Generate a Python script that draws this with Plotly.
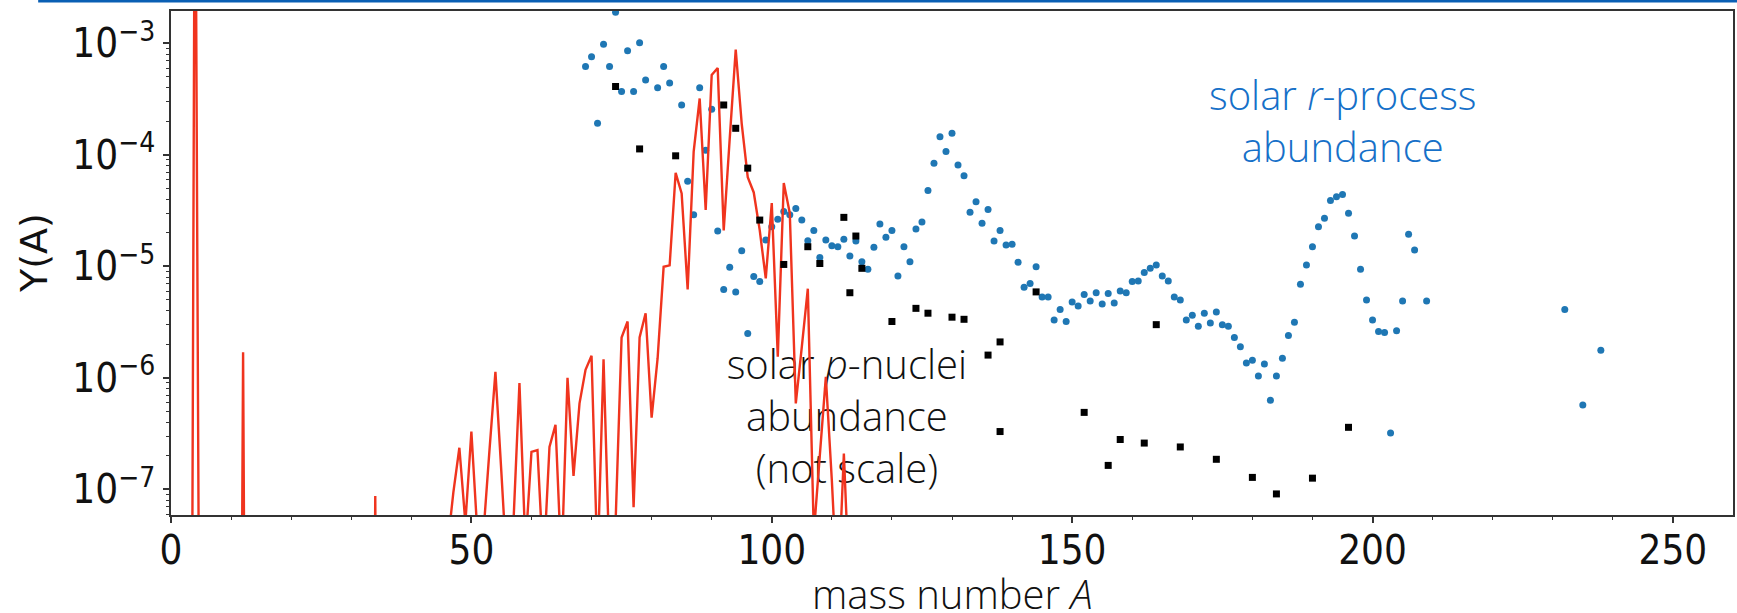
import plotly.graph_objects as go

# ---------------- data ----------------
# network abundance (red line); values far below the axis are off-chart
red_A = [3, 4, 5, 11, 12, 13, 33, 34, 35, 45, 46, 47, 48, 49, 50, 51, 52, 53, 54, 55,
         56, 57, 58, 59, 60, 61, 62, 63, 64, 65, 66, 67, 68, 69, 70, 71, 72, 73, 74, 75,
         76, 77, 78, 79, 80, 81, 82, 83, 84, 85, 86, 87, 88, 89, 90, 91, 92, 93, 94, 95,
         96, 97, 98, 99, 100, 101, 102, 103, 104, 105, 106, 107, 108, 109, 110, 111, 112, 113]
red_Y = [1e-16, 0.3, 1e-12, 1e-16, 1.7e-6, 1e-16, 1e-16, 8.7e-8, 1e-16, 1e-16, 3e-8, 9.4e-8,
         2.36e-7, 5e-8, 3.3e-7, 4e-8, 4e-8, 2.2e-7, 1.13e-6, 1.4e-7,
         1.6e-8, 5e-8, 9.0e-7, 3e-8, 2.17e-7, 2.25e-7, 2e-8, 2.4e-7, 3.8e-7, 2e-8,
         1.0e-6, 1.32e-7, 5.9e-7, 1.18e-6, 1.58e-6, 2e-8, 1.47e-6, 2e-8, 5e-8, 2.3e-6,
         3.2e-6, 6.9e-8, 2.3e-6, 3.8e-6, 4.4e-7, 1.5e-6, 9.9e-6, 1.02e-5, 6.9e-5, 4.5e-5,
         6.2e-6, 1.07e-4, 3.2e-4, 3.2e-5, 5.2e-4, 6.0e-4, 2.1e-5, 1.4e-4, 8.8e-4, 1.9e-4,
         6.3e-5, 4.6e-5, 2.1e-5, 7.8e-6, 3.7e-5, 1.55e-6, 5.6e-5, 3.0e-5, 5.9e-7, 1.9e-6,
         6.3e-6, 4e-8, 2e-7, 1.02e-6, 1.2e-7, 1e-8, 2.1e-7, 1e-8]

# solar r-process abundance (blue dots)
r_A = [69, 70, 71, 72, 73, 74, 75, 76, 77, 78, 79, 81, 82, 83, 85, 86, 87, 88, 89, 90,
       91, 92, 93, 94, 95, 96, 97, 98, 99, 100, 101, 102, 103, 104, 105, 106, 107, 108, 109, 110,
       111, 112, 113, 114, 115, 116, 117, 118, 119, 120, 121, 122, 123, 124, 125, 126, 127, 128, 129, 130,
       131, 132, 133, 134, 135, 136, 137, 138, 139, 140, 141, 142, 143, 144, 145, 146, 147, 148, 149, 150,
       151, 152, 153, 154, 155, 156, 157, 158, 159, 160, 161, 162, 163, 164, 165, 166, 167, 168, 169, 170,
       171, 172, 173, 174, 175, 176, 177, 178, 179, 180, 181, 182, 183, 184, 185, 186, 187, 188, 189, 190,
       191, 192, 193, 194, 195, 196, 197, 198, 199, 200, 201, 202, 203, 204, 205, 206, 207, 209,
       232, 235, 238]
r_Y = [6.2e-4, 7.6e-4, 1.92e-4, 9.8e-4, 6.2e-4, 1.9e-3, 3.7e-4, 8.6e-4, 3.7e-4, 1.01e-3,
       4.7e-4, 4.0e-4, 6.2e-4, 4.4e-4, 2.8e-4, 5.8e-5, 2.9e-5, 4.0e-4, 1.1e-4, 2.56e-4,
       2.07e-5, 6.2e-6, 9.8e-6, 5.9e-6, 1.38e-5, 2.5e-6, 8.1e-6, 7.3e-6, 1.72e-5, 2.27e-5,
       2.65e-5, 3.1e-5, 2.9e-5, 3.3e-5, 2.6e-5, 1.7e-5, 2.1e-5, 1.2e-5, 1.72e-5, 1.53e-5,
       1.5e-5, 1.75e-5, 1.24e-5, 1.69e-5, 1.1e-5, 9.4e-6, 1.48e-5, 2.4e-5, 1.82e-5, 2.1e-5,
       8.2e-6, 1.5e-5, 1.1e-5, 2.16e-5, 2.5e-5, 4.8e-5, 8.4e-5, 1.45e-4, 1.07e-4, 1.56e-4,
       8.1e-5, 6.5e-5, 3.05e-5, 3.8e-5, 2.43e-5, 3.24e-5, 1.69e-5, 2.1e-5, 1.55e-5, 1.58e-5,
       1.09e-5, 6.5e-6, 7.0e-6, 9.9e-6, 5.3e-6, 5.3e-6, 3.3e-6, 4.1e-6, 3.2e-6, 4.8e-6,
       4.4e-6, 5.6e-6, 4.9e-6, 5.8e-6, 4.6e-6, 5.7e-6, 4.7e-6, 6.0e-6, 5.8e-6, 7.3e-6,
       7.4e-6, 8.8e-6, 9.6e-6, 1.03e-5, 8.2e-6, 7.4e-6, 5.3e-6, 5.0e-6, 3.3e-6, 3.65e-6,
       2.9e-6, 3.8e-6, 3.1e-6, 3.9e-6, 3.0e-6, 2.9e-6, 2.3e-6, 1.9e-6, 1.36e-6, 1.44e-6,
       1.04e-6, 1.33e-6, 6.3e-7, 1.04e-6, 1.5e-6, 2.4e-6, 3.15e-6, 6.9e-6, 1.03e-5, 1.5e-5,
       2.27e-5, 2.7e-5, 3.9e-5, 4.2e-5, 4.4e-5, 3.0e-5, 1.87e-5, 9.4e-6, 5.0e-6, 3.3e-6,
       2.6e-6, 2.55e-6, 3.2e-7, 2.64e-6, 4.9e-6, 1.94e-5, 1.4e-5, 4.9e-6,
       4.1e-6, 5.7e-7, 1.77e-6]

# solar p-nuclei abundance (black squares, not to scale)
p_A = [74, 78, 84, 92, 94, 96, 98, 102, 106, 108, 112, 113, 114, 115, 120, 124, 126, 130,
       132, 136, 138, 138, 144, 152, 156, 158, 162, 164, 168, 174, 180, 184, 190, 196]
p_Y = [4.1e-4, 1.13e-4, 9.8e-5, 2.8e-4, 1.73e-4, 7.6e-5, 2.6e-5, 1.04e-5, 1.5e-5, 1.06e-5,
       2.75e-5, 5.8e-6, 1.87e-5, 9.6e-6, 3.2e-6, 4.2e-6, 3.8e-6, 3.5e-6,
       3.35e-6, 1.6e-6, 2.1e-6, 3.3e-7, 5.9e-6, 4.9e-7, 1.64e-7, 2.8e-7, 2.6e-7, 3.0e-6,
       2.4e-7, 1.86e-7, 1.28e-7, 9.1e-8, 1.26e-7, 3.6e-7]

x_ticks = [0, 50, 100, 150, 200, 250]
x_minor = [10, 20, 30, 40, 60, 70, 80, 90, 110, 120, 130, 140, 160, 170, 180, 190, 210, 220, 230, 240]
y_ticks = [1e-7, 1e-6, 1e-5, 1e-4, 1e-3]
y_ticktext = ["10<sup>\u22127</sup>", "10<sup>\u22126</sup>", "10<sup>\u22125</sup>",
              "10<sup>\u22124</sup>", "10<sup>\u22123</sup>"]
y_minor = [m * 10.0 ** e for e in range(-8, -2) for m in range(2, 10)]

# ---------------- style ----------------
TICK_FONT = "DejaVu Sans Condensed, DejaVu Sans, sans-serif"
LABEL_FONT = "Open Sans, Lato, sans-serif"
RED = "#f0341e"
BLUE_DOT = "#1f77b4"
BLUE_TXT = "#1670c8"
AX = "#333333"

fig = go.Figure()

fig.add_trace(go.Scatter(x=r_A, y=r_Y, mode="markers",
                         marker=dict(symbol="circle", size=7, color=BLUE_DOT, line=dict(width=0)),
                         hoverinfo="skip"))

# label drawn underneath the red line
fig.add_trace(go.Scatter(x=[112.5], y=[10 ** -6.39], mode="text",
                         text=["solar <i>p</i>-nuclei<br>abundance<br>(not scale)"],
                         textposition="middle center",
                         textfont=dict(family=LABEL_FONT, size=40, color="#111111", weight=300),
                         hoverinfo="skip"))

fig.add_trace(go.Scatter(x=red_A, y=red_Y, mode="lines",
                         line=dict(color=RED, width=2.4),
                         hoverinfo="skip"))

fig.add_trace(go.Scatter(x=p_A, y=p_Y, mode="markers",
                         marker=dict(symbol="square", size=7, color="black", line=dict(width=0)),
                         hoverinfo="skip"))

fig.update_layout(
    width=1737, height=613,
    margin=dict(l=171, r=2, t=11, b=98),
    paper_bgcolor="white", plot_bgcolor="white",
    showlegend=False,
)

fig.update_xaxes(
    range=[0, 260], tickvals=x_ticks, ticktext=[str(v) for v in x_ticks],
    ticks="outside", ticklen=6, tickwidth=1.5, tickcolor=AX,
    ticklabelstandoff=-7,
    showline=True, linecolor=AX, linewidth=1.5, mirror=True,
    showgrid=False, zeroline=False,
    tickfont=dict(family=TICK_FONT, size=40, color="#111111"),
    minor=dict(tickvals=x_minor, ticks="outside", ticklen=3, tickwidth=1, tickcolor=AX),
)
fig.update_yaxes(
    type="log", range=[-7.23, -2.71],
    tickvals=y_ticks, ticktext=y_ticktext,
    ticks="outside", ticklen=6, tickwidth=1.5, tickcolor=AX,
    showline=True, linecolor=AX, linewidth=1.5, mirror=True,
    showgrid=False, zeroline=False,
    tickfont=dict(family=TICK_FONT, size=40, color="#111111"),
    minor=dict(tickvals=y_minor, ticks="outside", ticklen=3, tickwidth=1, tickcolor=AX),
)

# r-process label
fig.add_annotation(x=195.0, y=-3.69, xref="x", yref="y",
                   text="solar <i>r</i>-process<br>abundance", showarrow=False,
                   font=dict(family=LABEL_FONT, size=40, color=BLUE_TXT, weight=300),
                   xanchor="center", yanchor="middle", align="center")

# axis titles
fig.add_annotation(x=0.5, y=0, xref="paper", yref="paper", yshift=-78,
                   text="mass number <i>A</i>", showarrow=False,
                   font=dict(family=LABEL_FONT, size=40, color="#111111", weight=300),
                   xanchor="center", yanchor="middle")
fig.add_annotation(x=0, y=0.5, xref="paper", yref="paper", xshift=-137, yshift=10,
                   text="Y(A)", showarrow=False, textangle=-90,
                   font=dict(family="DejaVu Sans, sans-serif", size=38, color="#111111"),
                   xanchor="center", yanchor="middle")

# slide decoration: blue rule at the very top
fig.add_shape(type="rect", xref="paper", yref="paper",
              x0=(38 - 171) / 1564, x1=1.01, y0=(515 - 2.5) / 504, y1=1.03,
              line=dict(width=0), fillcolor="#0a5fb4", layer="above")

fig.write_html("out.html")
